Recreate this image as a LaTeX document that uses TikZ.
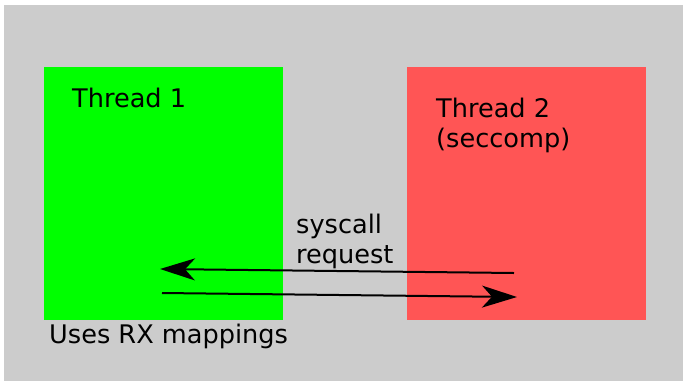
\documentclass[tikz,border=0pt]{standalone}
\usepackage{fontspec}
\setmainfont{DejaVu Sans}
\usetikzlibrary{positioning,arrows.meta}

\definecolor{bggray}{HTML}{CCCCCC}
\definecolor{threadgreen}{HTML}{00FF00}
\definecolor{threadred}{HTML}{FF5555}

\begin{document}
\begin{tikzpicture}[x=1pt,y=-1pt,
	label/.style={anchor=base west, inner sep=0pt, align=left,
		font=\fontsize{25.6}{30}\selectfont},
	call/.style={line width=2pt, -{Stealth[length=35pt,width=22pt,inset=10pt]}}]
	\useasboundingbox (0,0) rectangle (683,381);
	\fill[bggray] (4,5) rectangle (683,381);

	\fill[threadgreen] (44,67) rectangle (283,320);
	\fill[threadred] (407,67) rectangle (646,320);

	% multi-line labels sit on their last baseline
	\node[label] (t1) at (72,107) {Thread 1};
	\node[label] (t2) at (436,147) {Thread 2\\(seccomp)};
	\node[label] (req) at (296,263) {syscall\\request};
	\node[label] (rx) at (49,343) {Uses RX mappings};

	\coordinate (a) at (514,273);
	\coordinate (b) at (160,269);
	\coordinate (c) at (162,293);
	\coordinate (d) at (517,297);

	\draw[call] (a) -- (b);
	\draw[call] (c) -- (d);
\end{tikzpicture}
\end{document}
